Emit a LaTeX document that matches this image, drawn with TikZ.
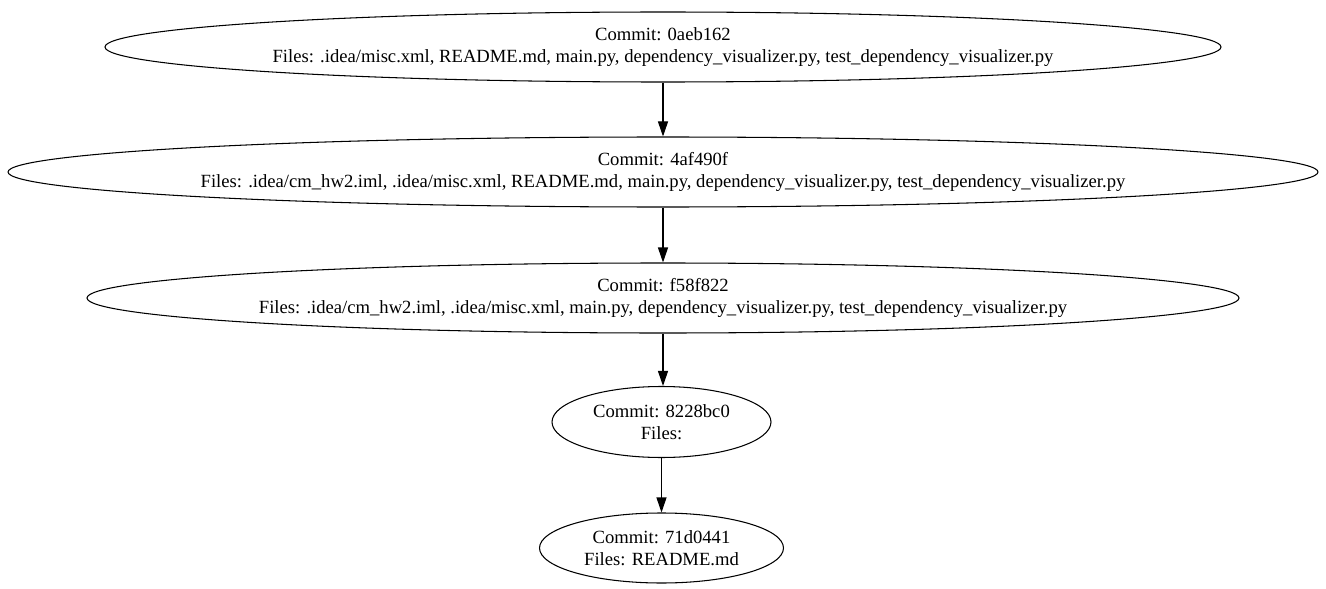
\documentclass[tikz,border=0pt]{standalone}
\usepackage{fontspec}
\setmainfont{Liberation Serif}
\usetikzlibrary{arrows.meta,shapes.geometric,positioning}

\begin{document}
\begin{tikzpicture}[
    commit/.style={draw,ellipse,inner sep=0pt,minimum height=1.4cm,line width=0.6pt},
    msg/.style={align=center,inner sep=0pt,font=\fontsize{10.6}{12.5}\selectfont},
    link/.style={-{Triangle[length=0.3cm,width=0.2cm]},line width=0.6pt}
  ]
    \useasboundingbox (0,0) rectangle (26.52,-11.78);

    % Commit 0aeb162
    \node[commit,minimum width=22.32cm] (c1) at (13.26,-0.94) {};
    \node[msg] (t1) at (c1) {Commit: 0aeb162\\Files: .idea/misc.xml, README.md, main.py, dependency\_visualizer.py, test\_dependency\_visualizer.py};

    % Commit 4af490f
    \node[commit,minimum width=26.2cm] (c2) at (13.26,-3.44) {};
    \node[msg] (t2) at (c2) {Commit: 4af490f\\Files: .idea/cm\_hw2.iml, .idea/misc.xml, README.md, main.py, dependency\_visualizer.py, test\_dependency\_visualizer.py};

    % Commit f58f822
    \node[commit,minimum width=23.04cm] (c3) at (13.26,-5.96) {};
    \node[msg] (t3) at (c3) {Commit: f58f822\\Files: .idea/cm\_hw2.iml, .idea/misc.xml, main.py, dependency\_visualizer.py, test\_dependency\_visualizer.py};

    % Commit 8228bc0
    \node[commit,minimum width=4.38cm,minimum height=1.42cm] (c4) at (13.23,-8.44) {};
    \node[msg] (t4) at (c4) {Commit: 8228bc0\\Files:};

    % Commit 71d0441
    \node[commit,minimum width=4.88cm] (c5) at (13.23,-10.96) {};
    \node[msg] (t5) at (c5) {Commit: 71d0441\\Files: README.md};

    % History
    \draw[link] (c1) -- (c2);
    \draw[link] (c2) -- (c3);
    \draw[link] (c3.south) -- (c3.south |- c4.north);
    \draw[link] (c4) -- (c5);
\end{tikzpicture}
\end{document}
